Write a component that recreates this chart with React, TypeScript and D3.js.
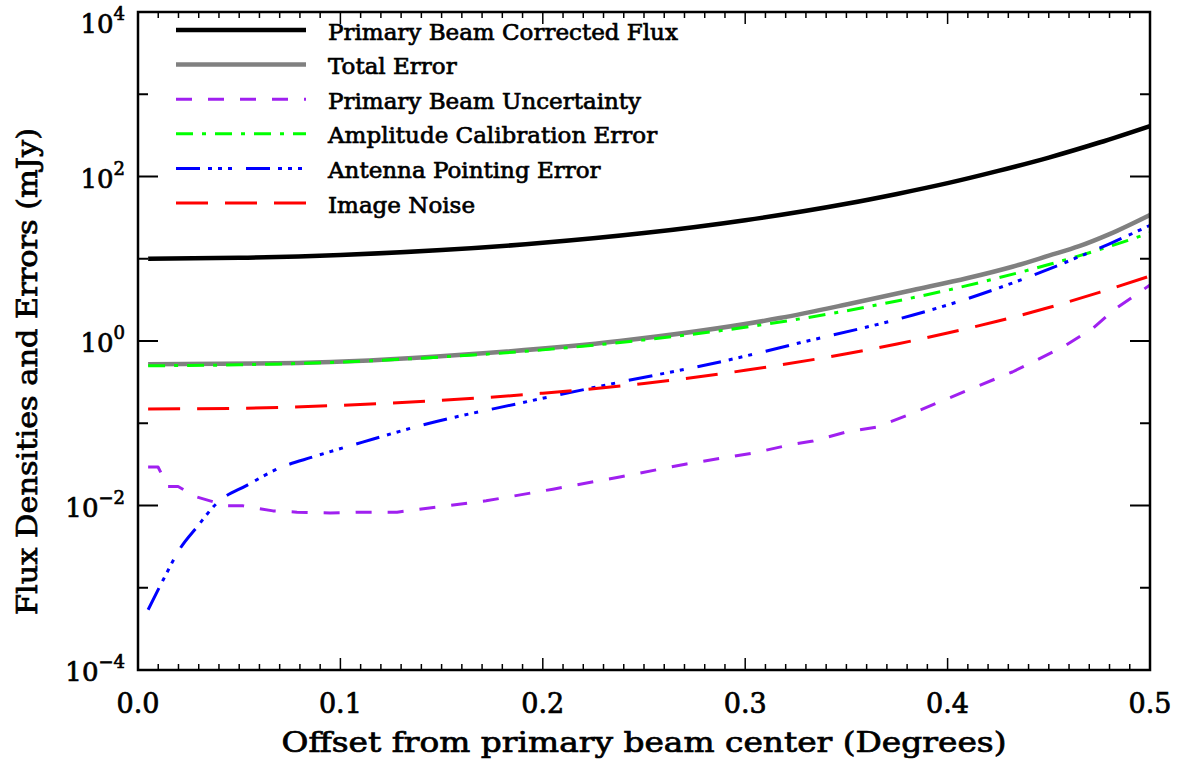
import React from "react";
import * as d3 from "d3";

// Offset (deg) / value (mJy) pairs
const fluxX = [0.005, 0.05, 0.1, 0.15, 0.2, 0.25, 0.3, 0.35, 0.375, 0.4, 0.425, 0.45, 0.475, 0.5];
const fluxY = [10.0, 10.26, 11.1, 12.75, 15.6, 20.5, 29.4, 46.6, 61.4, 83, 117, 170, 259, 411];

const totalX = [0.005, 0.079, 0.16, 0.238, 0.317, 0.35, 0.383, 0.41, 0.432, 0.45, 0.465, 0.48, 0.5];
const totalY = [0.52, 0.54, 0.68, 1.0, 1.9, 2.78, 4.17, 5.83, 8.0, 10.9, 14.2, 19.9, 34];

const pbX = [0.005, 0.0099, 0.0148, 0.0198, 0.029, 0.0356, 0.044, 0.052, 0.0667, 0.0786, 0.0949, 0.111, 0.128, 0.144, 0.172, 0.205, 0.238, 0.271, 0.304, 0.322, 0.3335, 0.35, 0.365, 0.383, 0.41, 0.432, 0.457, 0.472, 0.482, 0.5];
const pbY = [0.0294, 0.0294, 0.017, 0.017, 0.0127, 0.0114, 0.0099, 0.0099, 0.0086, 0.0083, 0.0081, 0.0083, 0.0083, 0.0093, 0.0114, 0.0158, 0.0222, 0.032, 0.0435, 0.0545, 0.0608, 0.0783, 0.09, 0.133, 0.253, 0.42, 0.845, 1.44, 2.38, 4.79];

const ampX = [0.005, 0.05, 0.1, 0.15, 0.2, 0.25, 0.3, 0.35, 0.375, 0.4, 0.425, 0.45, 0.475, 0.5];
const ampY = [0.5, 0.513, 0.555, 0.64, 0.78, 1.03, 1.47, 2.33, 3.07, 4.15, 5.85, 8.5, 12.9, 20.6];

const pointX = [0.005, 0.0124, 0.0208, 0.0292, 0.039, 0.054, 0.07, 0.0865, 0.111, 0.144, 0.189, 0.238, 0.2875, 0.327, 0.383, 0.41, 0.432, 0.45, 0.465, 0.48, 0.5];
const pointY = [5.4e-4, 1.24e-3, 3.0e-3, 5.5e-3, 0.0107, 0.0177, 0.0286, 0.039, 0.059, 0.1, 0.176, 0.316, 0.556, 0.95, 2.07, 3.28, 5.07, 7.48, 10.6, 15.2, 25.5];

const noiseX = [0.005, 0.05, 0.1, 0.15, 0.2, 0.25, 0.3, 0.35, 0.375, 0.4, 0.425, 0.45, 0.475, 0.5];
const noiseY = [0.149, 0.152, 0.165, 0.19, 0.232, 0.305, 0.44, 0.7, 0.92, 1.25, 1.75, 2.55, 3.9, 6.17];

const xTicks = [0, 0.1, 0.2, 0.3, 0.4, 0.5];
const xTickLabels = ["0.0", "0.1", "0.2", "0.3", "0.4", "0.5"];
const yExponents = [-4, -3, -2, -1, 0, 1, 2, 3, 4];

const series = [
  { name: "Primary Beam Corrected Flux", xs: fluxX, ys: fluxY, color: "#000000", width: 4.5, dash: "", linear: false },
  { name: "Total Error", xs: totalX, ys: totalY, color: "#808080", width: 4.5, dash: "", linear: false },
  { name: "Primary Beam Uncertainty", xs: pbX, ys: pbY, color: "#a020f0", width: 3, dash: "16 16", linear: true },
  { name: "Amplitude Calibration Error", xs: ampX, ys: ampY, color: "#00ff00", width: 3, dash: "17 9 4 9", linear: false },
  { name: "Antenna Pointing Error", xs: pointX, ys: pointY, color: "#0000ff", width: 3, dash: "24 8 4 6 4 6 4 14", linear: false },
  { name: "Image Noise", xs: noiseX, ys: noiseY, color: "#ff0000", width: 3, dash: "32 17", linear: false },
];

const W = 1183;
const H = 763;
const left = 138;
const right = 1150;
const top = 12;
const bottom = 670;
const FONT = "'DejaVu Serif', serif";
// the original font is heavier than DejaVu Serif book
const bold = { stroke: "#000", strokeWidth: 0.7 };

export default function App() {
  const x = d3.scaleLinear().domain([0, 0.5]).range([left, right]);
  const y = d3.scaleLog().domain([1e-4, 1e4]).range([bottom, top]);

  const minorX = d3.range(0, 51).map((i) => i / 100);

  return (
    <svg width={W} height={H} style={{ position: "absolute", left: 0, top: 0, background: "#fff" }}>
      <defs>
        <clipPath id="plot">
          <rect x={left} y={top} width={right - left} height={bottom - top} />
        </clipPath>
      </defs>

      <g clipPath="url(#plot)">
        {series.map((s) => {
          const pts = s.xs.map((v, i) => [v, s.ys[i]] as [number, number]);
          const line = d3
            .line<[number, number]>()
            .x((d) => x(d[0]))
            .y((d) => y(d[1]))
            .curve(s.linear ? d3.curveLinear : d3.curveMonotoneX);
          return (
            <path key={s.name} d={line(pts) || ""} fill="none" stroke={s.color}
              strokeWidth={s.width} strokeDasharray={s.dash || undefined} strokeLinejoin="round" />
          );
        })}
      </g>

      {/* frame */}
      <rect x={left} y={top} width={right - left} height={bottom - top} fill="none" stroke="#000" strokeWidth={2.5} />

      {/* x ticks, bottom and top */}
      {minorX.map((v, i) => {
        const major = i % 10 === 0;
        const len = major ? 12 : 6;
        return (
          <g key={"xt" + i} stroke="#000" strokeWidth={1.5}>
            <line x1={x(v)} x2={x(v)} y1={bottom} y2={bottom - len} />
            <line x1={x(v)} x2={x(v)} y1={top} y2={top + len} />
          </g>
        );
      })}
      {xTicks.map((v, i) => (
        <text key={"xl" + i} x={x(v)} y={713} textAnchor="middle" fontFamily={FONT} fontSize={27} {...bold}>
          {xTickLabels[i]}
        </text>
      ))}

      {/* y ticks, left and right */}
      {yExponents.map((e) => {
        const major = e % 2 === 0;
        const len = major ? 20 : 10;
        const yy = y(Math.pow(10, e));
        return (
          <g key={"yt" + e} stroke="#000" strokeWidth={2}>
            <line x1={left} x2={left + len} y1={yy} y2={yy} />
            <line x1={right} x2={right - len} y1={yy} y2={yy} />
          </g>
        );
      })}
      {yExponents.filter((e) => e % 2 === 0).map((e) => {
        const yy = Math.max(y(Math.pow(10, e)) + 11, 33);
        return (
          <text key={"yl" + e} x={125} y={yy} textAnchor="end" fontFamily={FONT} fontSize={26} {...bold}>
            10<tspan dy={-13} fontSize={18}>{String(e).replace("-", "\u2212")}</tspan>
          </text>
        );
      })}

      {/* axis titles */}
      <text x={(left + right) / 2} y={752} textAnchor="middle" fontFamily={FONT} fontSize={27}
        textLength={725} lengthAdjust="spacingAndGlyphs" {...bold}>
        Offset from primary beam center (Degrees)
      </text>
      <text transform={`translate(37, ${(128 + 615) / 2}) rotate(-90)`} textAnchor="middle" fontFamily={FONT}
        fontSize={27} textLength={487} lengthAdjust="spacingAndGlyphs" {...bold}>
        Flux Densities and Errors (mJy)
      </text>

      {/* legend */}
      {series.map((s, i) => {
        const ly = 30 + i * 34.6;
        return (
          <g key={"lg" + i}>
            <line x1={176} x2={306} y1={ly} y2={ly} stroke={s.color} strokeWidth={s.width}
              strokeDasharray={s.dash || undefined} />
            <text x={328} y={ly + 9.5} fontFamily={FONT} fontSize={23} {...bold}>{s.name}</text>
          </g>
        );
      })}
    </svg>
  );
}
